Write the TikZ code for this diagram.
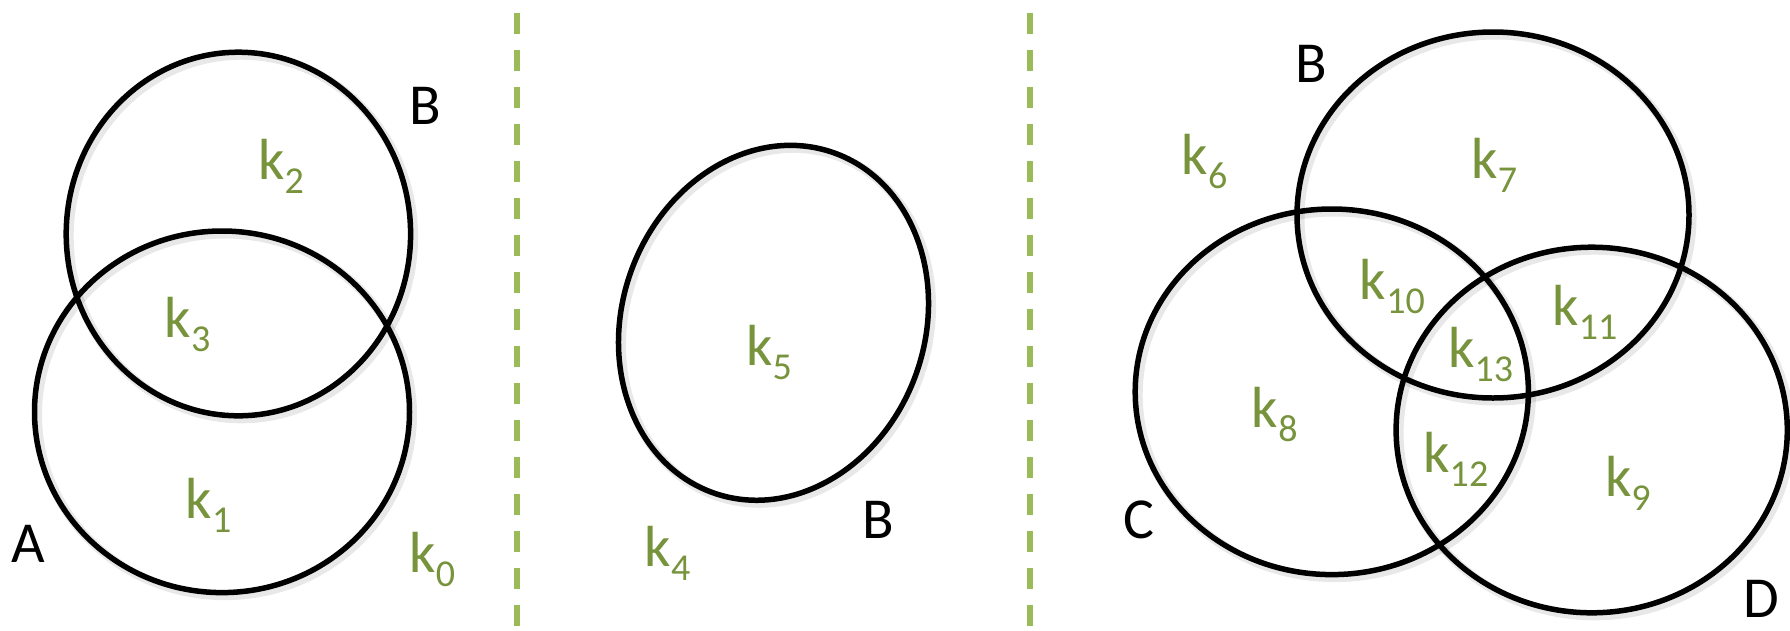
\documentclass[tikz,border=0pt]{standalone}
\usepackage{fontspec}
\setmainfont{Carlito}
\definecolor{kgreen}{HTML}{77933C}
\definecolor{dashgreen}{HTML}{9BBB59}
\newcommand\kk[1]{k\raisebox{-14pt}{\fontsize{38}{38}\selectfont #1}}
\begin{document}
\begin{tikzpicture}[x=1pt,y=-1pt,
  venn/.style={line width=5.5pt, draw=black},
  vshadow/.style={line width=9pt, draw=black, opacity=0.09},
  klabel/.style={text=kgreen, font=\fontsize{58}{58}\selectfont, inner sep=0pt},
  setlabel/.style={text=black, font=\fontsize{58}{58}\selectfont, inner sep=0pt},
  divider/.style={draw=dashgreen, line width=6pt, dash pattern=on 21pt off 16pt}]
\useasboundingbox (0,0) rectangle (1790,630);
\fill[white] (0,0) rectangle (1790,630);

% shadows
\begin{scope}[shift={(3pt,-3pt)}]
  \draw[vshadow] (238.4,234) ellipse (172.2 and 181.8);
  \draw[vshadow] (222,411.8) ellipse (187.5 and 180.8);
  \draw[vshadow, rotate around={-19.5:(773.5,322.8)}] (773.5,322.8) ellipse (151.5 and 180.4);
  \draw[vshadow] (1493,215) ellipse (196 and 183);
  \draw[vshadow] (1331.8,391.8) ellipse (196.6 and 182.8);
  \draw[vshadow] (1591.7,430) ellipse (195.6 and 182.8);
\end{scope}

% left diagram
\draw[venn] (238.4,234) ellipse (172.2 and 181.8);
\draw[venn] (222,411.8) ellipse (187.5 and 180.8);
% middle diagram
\draw[venn, rotate around={-19.5:(773.5,322.8)}] (773.5,322.8) ellipse (151.5 and 180.4);
% right diagram
\draw[venn] (1493,215) ellipse (196 and 183);
\draw[venn] (1331.8,391.8) ellipse (196.6 and 182.8);
\draw[venn] (1591.7,430) ellipse (195.6 and 182.8);

% dividers
\coordinate (d1top) at (517,13);
\coordinate (d1bot) at (517,640);
\coordinate (d2top) at (1030,13);
\coordinate (d2bot) at (1030,640);
\draw[divider] (d1top) -- (d1bot);
\draw[divider] (d2top) -- (d2bot);

% labels left
\node[setlabel] (A1) at (28.7,544) {A};
\node[setlabel] (B1) at (425,105.5) {B};
\node[klabel] (k2) at (281,166) {\kk{2}};
\node[klabel] (k3) at (187.5,324) {\kk{3}};
\node[klabel] (k1) at (208.5,505) {\kk{1}};
\node[klabel] (k0) at (432.4,559) {\kk{0}};
% labels middle
\node[klabel] (k5) at (769,352) {\kk{5}};
\node[klabel] (k4) at (667.5,553) {\kk{4}};
\node[setlabel] (B2) at (878.7,520.3) {B};
% labels right
\node[setlabel] (B3) at (1311,64.3) {B};
\node[klabel] (k6) at (1204.5,161.7) {\kk{6}};
\node[klabel] (k7) at (1494.3,165.7) {\kk{7}};
\node[klabel] (k10) at (1392.4,286.3) {\kk{10}};
\node[klabel] (k11) at (1584.9,312.4) {\kk{11}};
\node[klabel] (k13) at (1480.7,354.6) {\kk{13}};
\node[klabel] (k8) at (1274.7,414.8) {\kk{8}};
\node[klabel] (k12) at (1455.8,459) {\kk{12}};
\node[klabel] (k9) at (1627.9,483.1) {\kk{9}};
\node[setlabel] (C3) at (1138.9,520.3) {C};
\node[setlabel] (D3) at (1761.5,599) {D};
\end{tikzpicture}
\end{document}
